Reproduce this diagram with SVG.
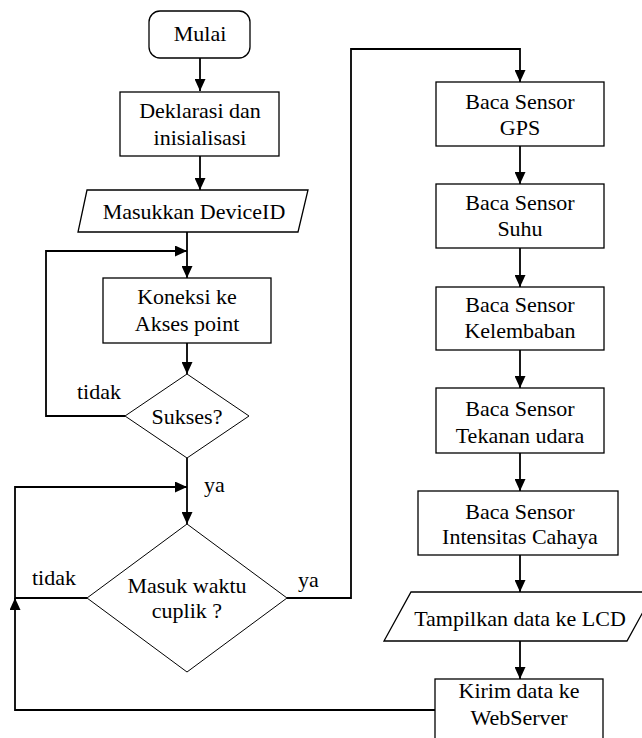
<svg xmlns="http://www.w3.org/2000/svg" width="642" height="738" viewBox="0 0 642 738">
<defs>
<marker id="ah" markerUnits="userSpaceOnUse" markerWidth="12" markerHeight="11" refX="12" refY="5.5" orient="auto">
<path d="M0,0 L12,5.5 L0,11 z" fill="#000"/>
</marker>
<style>
.box{fill:#fff;stroke:#000;stroke-width:1.3}
.dia{fill:#fff;stroke:#000;stroke-width:1}
.ln{fill:none;stroke:#000;stroke-width:1.8}
.c{text-anchor:middle}
</style>
</defs>
<rect width="642" height="738" fill="#fff"/>
<g font-family="'Liberation Serif', 'Times New Roman', serif" font-size="22" fill="#000">
<g id="connectors">
<path class="ln" d="M200,58 V91" marker-end="url(#ah)"/>
<path class="ln" d="M200,156 V190" marker-end="url(#ah)"/>
<path class="ln" d="M187,232 V278" marker-end="url(#ah)"/>
<path class="ln" d="M125,416 H46 V251 H187" marker-end="url(#ah)"/>
<path class="ln" d="M187,343 V374" marker-end="url(#ah)"/>
<path class="ln" d="M187,458 V524" marker-end="url(#ah)"/>
<path class="ln" d="M87,598 H15 V487 H187" marker-end="url(#ah)"/>
<path class="ln" d="M435,710 H15 V598" marker-end="url(#ah)"/>
<path class="ln" d="M287,598 H351 V49 H520 V82" marker-end="url(#ah)"/>
<path class="ln" d="M520,146 V184" marker-end="url(#ah)"/>
<path class="ln" d="M520,248 V287" marker-end="url(#ah)"/>
<path class="ln" d="M520,350 V388" marker-end="url(#ah)"/>
<path class="ln" d="M520,453 V491" marker-end="url(#ah)"/>
<path class="ln" d="M520,555 V592" marker-end="url(#ah)"/>
<path class="ln" d="M520,641 V679" marker-end="url(#ah)"/>
<text x="77" y="399">tidak</text>
<text x="204" y="492">ya</text>
<text x="32" y="585">tidak</text>
<text x="298" y="587">ya</text>
</g>
<g id="mulai">
<rect class="box" x="149" y="11" width="101" height="47" rx="11"/>
<text class="c" x="200" y="41">Mulai</text>
</g>
<g id="deklarasi">
<rect class="box" x="120" y="92" width="159" height="64"/>
<text class="c" x="200" y="118">Deklarasi dan</text>
<text class="c" x="200" y="145">inisialisasi</text>
</g>
<g id="deviceid">
<polygon class="box" points="87,190 308,190 298,232 78,232"/>
<text class="c" x="194" y="219">Masukkan DeviceID</text>
</g>
<g id="koneksi">
<rect class="box" x="103" y="278" width="168" height="65"/>
<text class="c" x="187" y="304">Koneksi ke</text>
<text class="c" x="187" y="331">Akses point</text>
</g>
<g id="sukses">
<polygon class="dia" points="187,374 249,416 187,458 125,416"/>
<text class="c" x="187" y="424">Sukses?</text>
</g>
<g id="waktu">
<polygon class="dia" points="187,524 287,598 187,672 87,598"/>
<text class="c" x="187" y="593">Masuk waktu</text>
<text class="c" x="187" y="618">cuplik ?</text>
</g>
<g id="gps">
<rect class="box" x="436" y="82" width="168" height="64"/>
<text class="c" x="520" y="109">Baca Sensor</text>
<text class="c" x="520" y="135">GPS</text>
</g>
<g id="suhu">
<rect class="box" x="436" y="184" width="168" height="64"/>
<text class="c" x="520" y="210">Baca Sensor</text>
<text class="c" x="520" y="236">Suhu</text>
</g>
<g id="kelembaban">
<rect class="box" x="436" y="287" width="168" height="63"/>
<text class="c" x="520" y="312">Baca Sensor</text>
<text class="c" x="520" y="338">Kelembaban</text>
</g>
<g id="tekanan">
<rect class="box" x="436" y="388" width="168" height="65"/>
<text class="c" x="520" y="416">Baca Sensor</text>
<text class="c" x="520" y="443">Tekanan udara</text>
</g>
<g id="intensitas">
<rect class="box" x="418" y="491" width="200" height="64"/>
<text class="c" x="520" y="519">Baca Sensor</text>
<text class="c" x="520" y="544">Intensitas Cahaya</text>
</g>
<g id="lcd">
<polygon class="box" points="411,592 654,592 627,641 384,641"/>
<text class="c" x="520" y="626">Tampilkan data ke LCD</text>
</g>
<g id="kirim">
<rect class="box" x="435" y="679" width="168" height="62"/>
<text class="c" x="519" y="698">Kirim data ke</text>
<text class="c" x="519" y="725">WebServer</text>
</g>
</g>
</svg>
